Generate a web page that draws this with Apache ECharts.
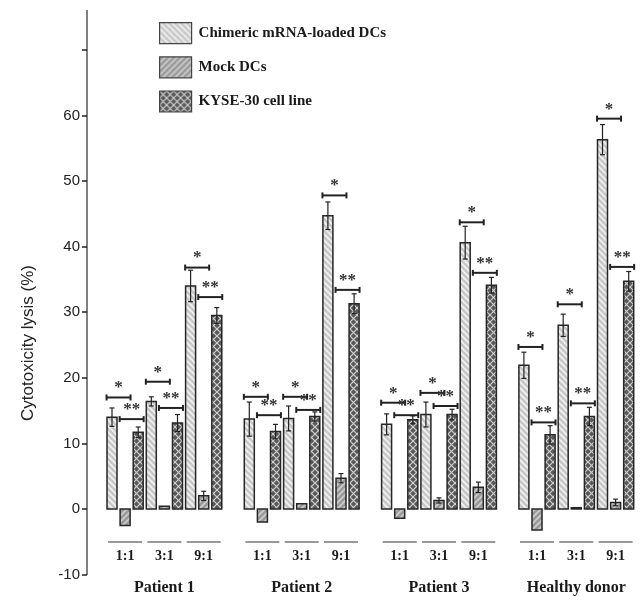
<!DOCTYPE html>
<html><head><meta charset="utf-8">
<script src="https://cdn.jsdelivr.net/npm/echarts@6/dist/echarts.min.js"></script>
<style>html,body{margin:0;padding:0;background:#fff}#c{width:642px;height:597px}</style>
</head><body><div id="c"></div>
<script>
// ---------- data ----------
const groups = ['Patient 1', 'Patient 2', 'Patient 3', 'Healthy donor'];
const ratios = ['1:1', '3:1', '9:1'];
const seriesNames = ['Chimeric mRNA-loaded DCs', 'Mock DCs', 'KYSE-30 cell line'];
// order: P1(1:1,3:1,9:1), P2(...), P3(...), Healthy(...)
const chimeric    = [14.0, 16.4, 34.0, 13.7, 13.8, 44.7, 12.9, 14.4, 40.6, 21.9, 28.0, 56.3];
const chimericErr = [1.4, 0.7, 2.4, 2.6, 1.9, 2.1, 1.6, 1.9, 2.5, 2.0, 1.7, 2.3];
const mock        = [-2.5, 0.4, 2.0, -2.0, 0.8, 4.7, -1.4, 1.3, 3.3, -3.2, 0.2, 1.0];
const mockErr     = [0, 0, 0.7, 0, 0, 0.7, 0, 0.4, 0.8, 0, 0, 0.5];
const kyse        = [11.7, 13.1, 29.5, 11.8, 14.1, 31.3, 13.6, 14.4, 34.1, 11.3, 14.1, 34.7];
const kyseErr     = [0.8, 1.3, 1.2, 1.1, 0.7, 1.5, 0.6, 0.8, 1.2, 1.4, 1.4, 1.5];
// significance brackets: height of "*" (chimeric vs mock) and "**" (mock vs KYSE)
const sigStar1 = [17.0, 19.4, 36.8, 17.1, 17.1, 47.8, 16.2, 17.7, 43.7, 24.7, 31.2, 59.5];
const sigStar2 = [13.7, 15.4, 32.3, 14.3, 15.1, 33.4, 14.3, 15.7, 36.0, 13.2, 16.1, 36.9];
const yTicks  = [-10, 0, 10, 20, 30, 40, 50, 60, 70];
const yLabels = [-10, 0, 10, 20, 30, 40, 50, 60];

// ---------- layout helpers ----------
const GROUP_PITCH = 137.3, RATIO_PITCH = 39.3, BAR_PITCH = 13.1, X0 = 25;
function xPos(g, r, s) { return X0 + g * GROUP_PITCH + r * RATIO_PITCH + s * BAR_PITCH; }

function makePattern(base, stripe, dirs, n, lw) {
  const c = document.createElement('canvas');
  c.width = n; c.height = n;
  const ctx = c.getContext('2d');
  ctx.fillStyle = base; ctx.fillRect(0, 0, n, n);
  ctx.strokeStyle = stripe; ctx.lineWidth = lw;
  dirs.forEach(d => {
    for (let k = -n; k <= 2 * n; k += n) {
      ctx.beginPath();
      if (d === '\\') { ctx.moveTo(k - n, -n); ctx.lineTo(k + 2 * n, 2 * n); }
      else { ctx.moveTo(k + n, -n); ctx.lineTo(k - 2 * n, 2 * n); }
      ctx.stroke();
    }
  });
  return { image: c, repeat: 'repeat' };
}
const patterns = [
  makePattern('#c8c8c8', '#f2f2f2', ['\\'], 6, 1.6),
  makePattern('#9a9a9a', '#cdcdcd', ['/'], 6, 1.6),
  makePattern('#585858', '#cfcfcf', ['\\', '/'], 7, 1.2)
];
const valuesList = [chimeric, mock, kyse];
const errList = [chimericErr, mockErr, kyseErr];

function barData(s) {
  const out = [];
  for (let g = 0; g < groups.length; g++)
    for (let r = 0; r < ratios.length; r++) {
      const i = g * 3 + r;
      out.push([xPos(g, r, s), valuesList[s][i], errList[s][i]]);
    }
  return out;
}

function barRender(s) {
  return function (params, api) {
    const x = api.value(0), v = api.value(1);
    const p0 = api.coord([x, 0]), p1 = api.coord([x, v]);
    const w = 10;
    return {
      type: 'rect',
      shape: { x: p0[0] - w / 2, y: Math.min(p0[1], p1[1]), width: w, height: Math.abs(p1[1] - p0[1]) },
      style: { fill: patterns[s], stroke: '#262626', lineWidth: 1.5 }
    };
  };
}

const errData = [];
for (let s = 0; s < 3; s++) barData(s).forEach(d => { if (d[2] > 0) errData.push(d); });

const sigData = [];
for (let g = 0; g < groups.length; g++)
  for (let r = 0; r < ratios.length; r++) {
    const i = g * 3 + r;
    sigData.push([(xPos(g, r, 0) + xPos(g, r, 1)) / 2, sigStar1[i], 1]);
    sigData.push([(xPos(g, r, 1) + xPos(g, r, 2)) / 2, sigStar2[i], 2]);
  }

const labelData = [];
for (let g = 0; g < groups.length; g++)
  for (let r = 0; r < ratios.length; r++) labelData.push([xPos(g, r, 1), g, r]);

const chart = echarts.init(document.getElementById('c'), null, { renderer: 'canvas' });
chart.setOption({
  animation: false,
  backgroundColor: '#fff',
  grid: { left: 87, right: 2, top: 10.4, bottom: 22.4 },
  xAxis: { type: 'value', min: 0, max: 553, show: false },
  yAxis: {
    type: 'value', min: -10, max: 76, interval: 10,
    axisLine: { show: true, onZero: false, lineStyle: { color: '#555', width: 1.5 } },
    axisTick: { show: true, length: 5, customValues: yTicks, lineStyle: { color: '#222', width: 1.5 } },
    axisLabel: { customValues: yLabels, fontFamily: 'Liberation Sans', fontSize: 15, color: '#222', margin: 7 },
    splitLine: { show: false }
  },
  legend: {
    orient: 'vertical', left: 159, top: 22, padding: 0, itemWidth: 32, itemHeight: 21, itemGap: 12, icon: 'rect',
    selectedMode: false,
    textStyle: { fontFamily: 'Liberation Serif', fontWeight: 'bold', fontSize: 15, color: '#1a1a1a', padding: [0, 0, 0, 2] },
    data: seriesNames.map((n, i) => ({ name: n, itemStyle: { color: patterns[i], borderColor: '#444', borderWidth: 1.2 } }))
  },
  graphic: [{
    type: 'text', x: 28, y: 343, rotation: Math.PI / 2,
    style: { text: 'Cytotoxicity lysis (%)', font: '17px "Liberation Sans"', fill: '#222', textAlign: 'center', textVerticalAlign: 'middle' }
  }],
  series: [
    ...[0, 1, 2].map(s => ({
      type: 'custom', name: seriesNames[s], data: barData(s), renderItem: barRender(s),
      itemStyle: { color: patterns[s], borderColor: '#444', borderWidth: 1.2 }, z: 2
    })),
    {
      type: 'custom', name: 'err', data: errData, z: 3, silent: true,
      renderItem: function (params, api) {
        const x = api.value(0), v = api.value(1), e = api.value(2);
        const top = api.coord([x, v + e]), bot = api.coord([x, v - e]);
        const cw = 2.5;
        const st = { stroke: '#222', lineWidth: 1.2 };
        return { type: 'group', children: [
          { type: 'line', shape: { x1: top[0], y1: top[1], x2: bot[0], y2: bot[1] }, style: st },
          { type: 'line', shape: { x1: top[0] - cw, y1: top[1], x2: top[0] + cw, y2: top[1] }, style: st },
          { type: 'line', shape: { x1: bot[0] - cw, y1: bot[1], x2: bot[0] + cw, y2: bot[1] }, style: st }
        ] };
      }
    },
    {
      type: 'custom', name: 'sig', data: sigData, z: 3, silent: true,
      renderItem: function (params, api) {
        const x = api.value(0), v = api.value(1), n = api.value(2);
        const p = api.coord([x, v]);
        const hw = 12, ch = 3;
        const st = { stroke: '#222', lineWidth: 2 };
        return { type: 'group', children: [
          { type: 'line', shape: { x1: p[0] - hw, y1: p[1], x2: p[0] + hw, y2: p[1] }, style: st },
          { type: 'line', shape: { x1: p[0] - hw, y1: p[1] - ch, x2: p[0] - hw, y2: p[1] + ch }, style: st },
          { type: 'line', shape: { x1: p[0] + hw, y1: p[1] - ch, x2: p[0] + hw, y2: p[1] + ch }, style: st },
          { type: 'text', x: p[0], y: p[1] - 1, style: { text: n === 2 ? '**' : '*', font: 'bold 17px "Liberation Serif"', fill: '#333', textAlign: 'center', textVerticalAlign: 'bottom' } }
        ] };
      }
    },
    {
      type: 'custom', name: 'labels', data: labelData, z: 3, silent: true, clip: false,
      renderItem: function (params, api) {
        const x = api.value(0), g = api.value(1), r = api.value(2);
        const px = api.coord([x, 0])[0];
        const children = [
          { type: 'line', shape: { x1: px - 17, y1: 542, x2: px + 17, y2: 542 }, style: { stroke: '#777', lineWidth: 1.5 } },
          { type: 'text', x: px, y: 556, style: { text: ratios[r], font: 'bold 14px "Liberation Serif"', fill: '#1a1a1a', textAlign: 'center', textVerticalAlign: 'middle' } }
        ];
        if (r === 1) children.push({ type: 'text', x: px, y: 588, style: { text: groups[g], font: 'bold 16px "Liberation Serif"', fill: '#1a1a1a', textAlign: 'center', textVerticalAlign: 'middle' } });
        return { type: 'group', children };
      }
    }
  ]
});
</script>
</body></html>
